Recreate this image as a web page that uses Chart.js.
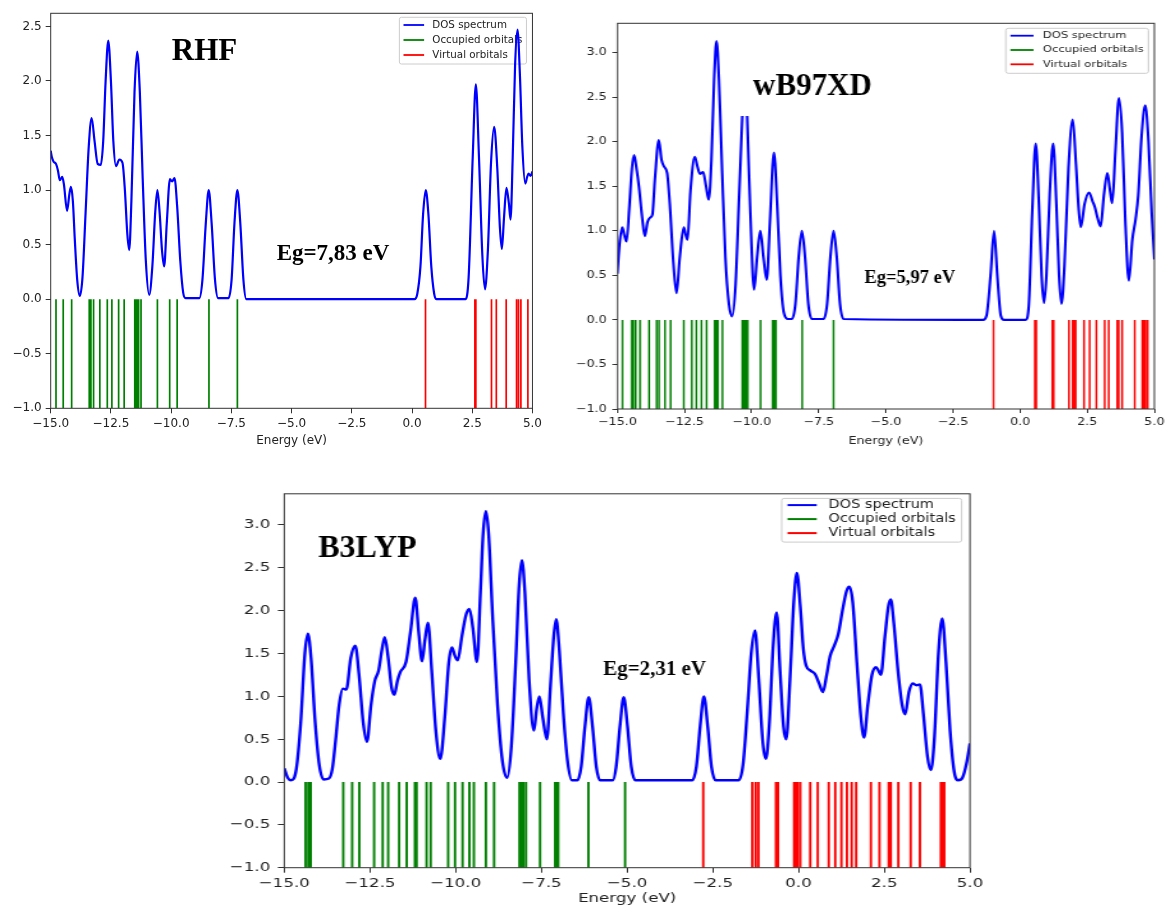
<!DOCTYPE html>
<html>
<head>
<meta charset="utf-8">
<script src="https://cdn.jsdelivr.net/npm/chart.js@4.4.1/dist/chart.umd.min.js"></script>
<style>
body { margin: 0; background: #fff; width: 1168px; height: 908px; overflow: hidden; position: relative; }
canvas { position: absolute; transform-origin: 0 0; }
</style>
</head>
<body>
<canvas id="rhf" width="545" height="450" style="left:0px;top:0px"></canvas>
<canvas id="wb97xd" width="475" height="450" style="left:565px;top:0px;transform:scaleX(1.27)"></canvas>
<canvas id="b3lyp" width="595" height="428" style="left:230px;top:480px;transform:scaleX(1.28)"></canvas>
<script>
// axis ticks
var energyTicks = [-15, -12.5, -10, -7.5, -5, -2.5, 0, 2.5, 5];
var rhfTicks = [-1, -0.5, 0, 0.5, 1, 1.5, 2, 2.5];
var dftTicks = [-1, -0.5, 0, 0.5, 1, 1.5, 2, 2.5, 3];
var seriesLabels = ['DOS spectrum', 'Occupied orbitals', 'Virtual orbitals'];

// RHF : [energy, DOS]
var rhfDos = [[-15.0,1.36],[-14.95,1.30],[-14.88,1.26],[-14.78,1.24],[-14.70,1.18],[-14.62,1.09],[-14.52,1.12],
  [-14.45,1.05],[-14.32,0.81],[-14.22,0.97],[-14.16,1.03],[-14.08,0.90],[-14.0,0.55],[-13.9,0.18],[-13.79,0.03],
  [-13.68,0.20],[-13.55,0.80],[-13.42,1.40],[-13.30,1.66],[-13.18,1.45],[-13.05,1.24],[-12.92,1.23],[-12.82,1.45],
  [-12.72,2.0],[-12.61,2.37],[-12.50,2.0],[-12.40,1.45],[-12.29,1.22],[-12.15,1.28],[-12.02,1.25],[-11.92,1.0],
  [-11.82,0.6],[-11.74,0.45],[-11.65,0.9],[-11.52,1.9],[-11.41,2.27],[-11.30,1.9],[-11.18,1.1],[-11.05,0.35],
  [-10.91,0.04],[-10.78,0.3],[-10.66,0.8],[-10.57,1.00],[-10.48,0.8],[-10.38,0.45],[-10.29,0.30],[-10.18,0.7],
  [-10.05,1.10],[-9.96,1.08],[-9.86,1.11],[-9.75,0.85],[-9.62,0.35],[-9.50,0.06],[-9.40,0.01],[-8.83,0.01],
  [-8.70,0.18],[-8.56,0.7],[-8.44,1.00],[-8.32,0.7],[-8.18,0.18],[-8.05,0.01],[-7.62,0.01],[-7.49,0.18],
  [-7.37,0.7],[-7.25,1.00],[-7.13,0.7],[-7.00,0.18],[-6.88,0.0],[0.10,0.0],[0.22,0.05],[0.35,0.30],[0.46,0.78],
  [0.57,1.00],[0.68,0.78],[0.80,0.30],[0.92,0.05],[1.02,0.0],[2.22,0.0],[2.35,0.20],[2.52,1.30],[2.65,1.97],
  [2.78,1.30],[2.92,0.40],[3.03,0.09],[3.15,0.45],[3.28,1.25],[3.41,1.58],[3.54,1.20],[3.65,0.65],[3.73,0.46],
  [3.82,0.75],[3.92,1.02],[4.02,0.88],[4.09,0.73],[4.18,1.30],[4.28,2.15],[4.38,2.47],[4.48,2.05],[4.58,1.40],
  [4.70,1.06],[4.78,1.12],[4.84,1.15],[4.92,1.13],[5.0,1.17]];
var rhfOccupied = [-14.78,-14.48,-14.13,-13.40,-13.33,-13.22,-12.96,-12.65,-12.46,-12.18,-11.95,-11.51,-11.45,
  -11.41,-11.35,-11.25,-10.57,-10.06,-9.75,-8.43,-7.25];
var rhfVirtual = [0.56,2.61,2.65,3.30,3.50,3.91,4.34,4.42,4.52,4.81];

// wB97XD
var wbDos = [[-15.0,0.52],[-14.92,0.85],[-14.82,1.04],[-14.74,0.95],[-14.66,0.88],[-14.56,1.25],[-14.46,1.70],
  [-14.38,1.85],[-14.28,1.68],[-14.20,1.50],[-14.08,1.15],[-13.98,0.94],[-13.88,1.10],[-13.78,1.15],[-13.70,1.18],
  [-13.60,1.60],[-13.46,2.02],[-13.36,1.80],[-13.26,1.72],[-13.15,1.65],[-13.05,1.30],[-12.92,0.65],[-12.80,0.30],
  [-12.68,0.70],[-12.53,1.04],[-12.46,0.96],[-12.39,0.90],[-12.28,1.45],[-12.12,1.83],[-12.02,1.72],[-11.93,1.64],
  [-11.81,1.66],[-11.70,1.50],[-11.60,1.35],[-11.50,1.80],[-11.40,2.70],[-11.31,3.13],[-11.22,2.70],[-11.10,1.65],
  [-10.98,0.70],[-10.85,0.18],[-10.73,0.04],[-10.60,0.40],[-10.48,1.30],[-10.35,2.29],[-10.26,null],[-10.17,2.29],
  [-10.05,1.20],[-9.91,0.34],[-9.80,0.70],[-9.68,1.00],[-9.56,0.70],[-9.44,0.45],[-9.32,1.10],[-9.17,1.88],
  [-9.05,1.30],[-8.93,0.50],[-8.80,0.08],[-8.65,0.01],[-8.50,0.01],[-8.37,0.18],[-8.25,0.7],[-8.13,1.00],
  [-8.01,0.7],[-7.89,0.18],[-7.76,0.01],[-7.32,0.01],[-7.19,0.18],[-7.07,0.7],[-6.95,1.00],[-6.83,0.7],
  [-6.71,0.18],[-6.58,0.01],[-1.38,0.0],[-1.25,0.05],[-1.10,0.5],[-0.97,1.00],[-0.85,0.5],[-0.72,0.05],
  [-0.60,0.0],[0.20,0.0],[0.32,0.15],[0.45,1.20],[0.58,1.98],[0.70,1.30],[0.80,0.50],[0.89,0.19],[0.98,0.50],
  [1.10,1.40],[1.23,1.98],[1.35,1.30],[1.45,0.50],[1.54,0.18],[1.65,0.60],[1.80,1.70],[1.96,2.25],[2.08,1.75],
  [2.18,1.25],[2.26,1.04],[2.40,1.30],[2.57,1.43],[2.70,1.33],[2.78,1.27],[2.88,1.15],[3.00,1.05],[3.12,1.40],
  [3.25,1.65],[3.35,1.45],[3.43,1.31],[3.55,1.90],[3.68,2.49],[3.80,2.10],[3.92,1.10],[4.05,0.44],[4.18,0.90],
  [4.30,1.13],[4.40,1.40],[4.52,2.05],[4.66,2.41],[4.78,2.00],[4.90,1.20],[5.0,0.68]];
var wbOccupied = [-14.81,-14.47,-14.41,-14.32,-14.16,-13.82,-13.54,-13.45,-13.23,-13.02,-12.53,-12.23,-12.06,
  -11.87,-11.68,-11.38,-11.31,-11.26,-11.09,-10.35,-10.30,-10.25,-10.20,-10.15,-9.67,-9.22,-9.16,-9.10,-8.12,-6.95];
var wbVirtual = [-0.99,0.55,0.60,1.20,1.25,1.82,1.96,2.01,2.07,2.38,2.59,2.84,3.15,3.30,3.62,3.67,3.80,4.27,
  4.55,4.61,4.67,4.75];

// B3LYP
var b3Dos = [[-15.0,0.16],[-14.90,0.05],[-14.80,0.02],[-14.65,0.15],[-14.52,0.70],[-14.40,1.50],[-14.31,1.73],
  [-14.22,1.45],[-14.10,0.70],[-13.98,0.20],[-13.85,0.03],[-13.70,0.04],[-13.60,0.15],[-13.50,0.50],[-13.40,0.90],
  [-13.29,1.09],[-13.19,1.08],[-13.06,1.45],[-12.93,1.59],[-12.82,1.25],[-12.70,0.70],[-12.59,0.47],[-12.47,0.90],
  [-12.36,1.18],[-12.25,1.30],[-12.15,1.55],[-12.07,1.69],[-11.97,1.45],[-11.87,1.10],[-11.79,1.02],[-11.70,1.18],
  [-11.62,1.28],[-11.45,1.40],[-11.32,1.75],[-11.18,2.15],[-11.08,1.75],[-10.98,1.41],[-10.90,1.65],[-10.81,1.86],
  [-10.70,1.30],[-10.58,0.60],[-10.45,0.27],[-10.32,0.75],[-10.20,1.40],[-10.11,1.57],[-10.02,1.47],[-9.94,1.42],
  [-9.82,1.70],[-9.70,1.95],[-9.60,2.02],[-9.50,1.80],[-9.38,1.40],[-9.28,2.20],[-9.20,2.90],[-9.12,3.16],
  [-9.04,2.90],[-8.92,1.90],[-8.78,0.90],[-8.64,0.25],[-8.50,0.05],[-8.38,0.40],[-8.25,1.40],[-8.15,2.30],
  [-8.07,2.59],[-7.98,2.20],[-7.86,1.20],[-7.72,0.60],[-7.64,0.85],[-7.56,1.00],[-7.46,0.75],[-7.34,0.50],
  [-7.24,1.10],[-7.14,1.70],[-7.07,1.90],[-6.98,1.55],[-6.86,0.80],[-6.74,0.25],[-6.61,0.02],[-6.45,0.02],
  [-6.34,0.18],[-6.23,0.65],[-6.12,0.99],[-6.01,0.65],[-5.90,0.18],[-5.79,0.02],[-5.42,0.02],[-5.32,0.18],
  [-5.21,0.65],[-5.10,0.99],[-4.99,0.65],[-4.88,0.18],[-4.76,0.02],[-3.10,0.02],[-2.98,0.18],[-2.87,0.65],
  [-2.76,1.00],[-2.65,0.65],[-2.54,0.18],[-2.42,0.02],[-1.75,0.02],[-1.62,0.20],[-1.50,0.80],[-1.38,1.50],
  [-1.27,1.77],[-1.16,1.20],[-1.04,0.45],[-0.95,0.27],[-0.85,0.70],[-0.74,1.60],[-0.64,1.98],[-0.54,1.30],
  [-0.44,0.65],[-0.36,0.50],[-0.25,1.20],[-0.14,2.10],[-0.05,2.44],[0.05,2.05],[0.14,1.55],[0.22,1.36],
  [0.35,1.30],[0.48,1.26],[0.60,1.15],[0.71,1.05],[0.82,1.25],[0.92,1.47],[1.05,1.60],[1.16,1.73],[1.28,2.00],
  [1.40,2.23],[1.48,2.28],[1.58,2.10],[1.70,1.40],[1.82,0.75],[1.91,0.52],[2.02,0.90],[2.14,1.25],[2.26,1.34],
  [2.33,1.30],[2.40,1.25],[2.52,1.70],[2.62,2.05],[2.69,2.13],[2.78,1.85],[2.90,1.30],[3.02,0.90],[3.11,0.79],
  [3.22,1.05],[3.33,1.15],[3.44,1.13],[3.54,1.14],[3.64,0.80],[3.76,0.30],[3.86,0.14],[3.96,0.50],[4.08,1.50],
  [4.19,1.91],[4.30,1.40],[4.42,0.60],[4.54,0.12],[4.66,0.02],[4.78,0.05],[4.90,0.22],[5.0,0.45]];
var b3Occupied = [-14.38,-14.30,-14.23,-13.28,-13.02,-12.81,-12.38,-12.13,-11.97,-11.65,-11.43,-11.19,-11.14,
  -10.85,-10.73,-10.22,-10.02,-9.80,-9.60,-9.47,-9.12,-8.88,-8.14,-8.08,-8.03,-7.95,-7.54,-7.10,-7.05,-7.01,
  -6.13,-5.06];
var b3Virtual = [-2.78,-1.35,-1.25,-1.17,-0.66,-0.60,-0.13,-0.08,-0.03,0.05,0.34,0.56,0.88,1.07,1.25,1.41,
  1.55,1.68,2.11,2.36,2.63,2.69,2.91,3.27,3.54,4.15,4.21,4.25];

Chart.defaults.font.family = "'DejaVu Sans', sans-serif";
Chart.defaults.color = '#222';

function fmt(v) {
    return (v < 0 ? '\u2212' : '') + Math.abs(v).toFixed(1);
}

// each orbital becomes a vertical stick from 0 down to -1
function sticks(list) {
    return list.flatMap(e => [{x: e, y: 0}, {x: e, y: -1}, {x: e, y: null}]);
}

// matplotlib-like frame, legend inside the axes and the added labels
const panelDecor = {
    id: 'panelDecor',
    beforeDatasetsDraw(chart, args, o) {
        const ctx = chart.ctx, a = chart.chartArea, L = o.legend, fs = L.size;
        const sets = chart.data.datasets;
        ctx.save();
        ctx.font = fs + "px 'DejaVu Sans'";
        const tw = Math.max(...sets.map(d => ctx.measureText(d.label).width));
        const w = 3.6 * fs + tw, h = L.height;
        const x0 = a.right - L.inset - w, y0 = a.top + L.top;
        ctx.beginPath();
        if (ctx.roundRect) ctx.roundRect(x0, y0, w, h, 2); else ctx.rect(x0, y0, w, h);
        ctx.fillStyle = 'rgba(255,255,255,0.8)';
        ctx.fill();
        ctx.strokeStyle = '#cccccc';
        ctx.lineWidth = 1;
        ctx.stroke();
        sets.forEach((d, i) => {
            const y = y0 + L.first + i * L.row;
            ctx.beginPath();
            ctx.moveTo(x0 + 0.4 * fs, y);
            ctx.lineTo(x0 + 2.4 * fs, y);
            ctx.strokeStyle = d.borderColor;
            ctx.lineWidth = L.handle;
            ctx.stroke();
            ctx.fillStyle = '#222';
            ctx.textBaseline = 'middle';
            ctx.textAlign = 'left';
            ctx.fillText(d.label, x0 + 3.2 * fs, y);
        });
        ctx.restore();
    },
    afterDraw(chart, args, o) {
        const ctx = chart.ctx, a = chart.chartArea;
        const xs = chart.scales.x, ys = chart.scales.y;
        ctx.save();
        ctx.strokeStyle = '#333';
        ctx.lineWidth = 1;
        ctx.strokeRect(a.left, a.top, a.right - a.left, a.bottom - a.top);
        ctx.fillStyle = '#000';
        ctx.textAlign = 'left';
        ctx.textBaseline = 'alphabetic';
        o.notes.forEach(n => {
            ctx.save();
            ctx.translate(xs.getPixelForValue(n.x), ys.getPixelForValue(n.y));
            ctx.scale(1 / o.stretch, 1);
            ctx.font = 'bold ' + n.size + "px 'Liberation Serif'";
            ctx.fillText(n.text, 0, 0);
            ctx.restore();
        });
        ctx.restore();
    }
};

function makePanel(id, p) {
    const config = {
        type: 'line',
        data: {
            datasets: [
            {
                label: seriesLabels[0],
                data: p.dos.map(d => ({x: d[0], y: d[1]})),
                borderColor: '#0000ff',
                borderWidth: p.dosWidth,
                pointRadius: 0,
                cubicInterpolationMode: 'monotone'
            },
            {
                label: seriesLabels[1],
                data: sticks(p.occ),
                borderColor: '#008000',
                borderWidth: p.stickWidth,
                pointRadius: 0
            },
            {
                label: seriesLabels[2],
                data: sticks(p.virt),
                borderColor: '#ff0000',
                borderWidth: p.stickWidth,
                pointRadius: 0
            }
            ]
        },
        options: {
            responsive: false,
            animation: false,
            events: [],
            layout: { padding: p.pad },
            plugins: {
                legend: { display: false },
                tooltip: { enabled: false },
                panelDecor: { legend: p.legend, notes: p.notes, stretch: p.stretch }
            },
            scales: {
                x: {
                    type: 'linear',
                    min: -15,
                    max: 5,
                    afterBuildTicks: s => { s.ticks = energyTicks.map(v => ({value: v})); },
                    afterFit: s => { s.height = p.xHeight; },
                    border: { display: false },
                    grid: { drawOnChartArea: false, tickLength: p.tick, color: '#333' },
                    ticks: { callback: fmt, font: { size: p.font }, maxRotation: 0, autoSkip: false, padding: p.xpad, color: '#222' },
                    title: { display: true, text: 'Energy (eV)', font: { size: p.font }, padding: { top: 0, bottom: p.titlePad }, color: '#222' }
                },
                y: {
                    type: 'linear',
                    min: -1,
                    max: p.yMax,
                    afterBuildTicks: s => { s.ticks = p.yTicks.map(v => ({value: v})); },
                    afterFit: s => { s.width = p.yWidth; },
                    border: { display: false },
                    grid: { drawOnChartArea: false, tickLength: p.tick, color: '#333' },
                    ticks: { callback: fmt, font: { size: p.font }, autoSkip: false, padding: p.ypad, color: '#222' }
                }
            }
        },
        plugins: [panelDecor]
    };
    return new Chart(document.getElementById(id), config);
}

makePanel('rhf', {
    dos: rhfDos, occ: rhfOccupied, virt: rhfVirtual, yMax: 2.62, yTicks: rhfTicks,
    stretch: 1, font: 12, tick: 5, xpad: 3, ypad: 4, titlePad: 2.2,
    yWidth: 50.7, xHeight: 41.7, pad: { left: 0, top: 13.3, right: 11.7, bottom: 0 },
    dosWidth: 2.2, stickWidth: 1.7,
    legend: { size: 10.3, inset: 6, top: 4, first: 7.7, row: 15, height: 46.7, handle: 1.8 },
    notes: [{ text: 'RHF', x: -9.97, y: 2.19, size: 31 }, { text: 'Eg=7,83 eV', x: -5.62, y: 0.36, size: 23 }]
});

makePanel('wb97xd', {
    dos: wbDos, occ: wbOccupied, virt: wbVirtual, yMax: 3.33, yTicks: dftTicks,
    stretch: 1.27, font: 10, tick: 4, xpad: 3, ypad: 4.5, titlePad: 2.5,
    yWidth: 41.3, xHeight: 41, pad: { left: 0, top: 23.3, right: 10.2, bottom: 0 },
    dosWidth: 2.1, stickWidth: 1.5,
    legend: { size: 9.1, inset: 4.7, top: 5, first: 7.4, row: 14.3, height: 45, handle: 1.8 },
    notes: [{ text: 'wB97XD', x: -9.95, y: 2.53, size: 31 }, { text: 'Eg=5,97 eV', x: -5.80, y: 0.41, size: 18.5 }]
});

makePanel('b3lyp', {
    dos: b3Dos, occ: b3Occupied, virt: b3Virtual, yMax: 3.364, yTicks: dftTicks,
    stretch: 1.28, font: 13, tick: 5, xpad: 3, ypad: 6, titlePad: 1.2,
    yWidth: 42.4, xHeight: 40.3, pad: { left: 0, top: 12.7, right: 16.9, bottom: 0 },
    dosWidth: 2.4, stickWidth: 1.9,
    legend: { size: 11.4, inset: 6.5, top: 4.6, first: 6.7, row: 14, height: 43.7, handle: 2 },
    notes: [{ text: 'B3LYP', x: -14.01, y: 2.63, size: 32 }, { text: 'Eg=2,31 eV', x: -5.70, y: 1.25, size: 21 }]
});
</script>
</body>
</html>
